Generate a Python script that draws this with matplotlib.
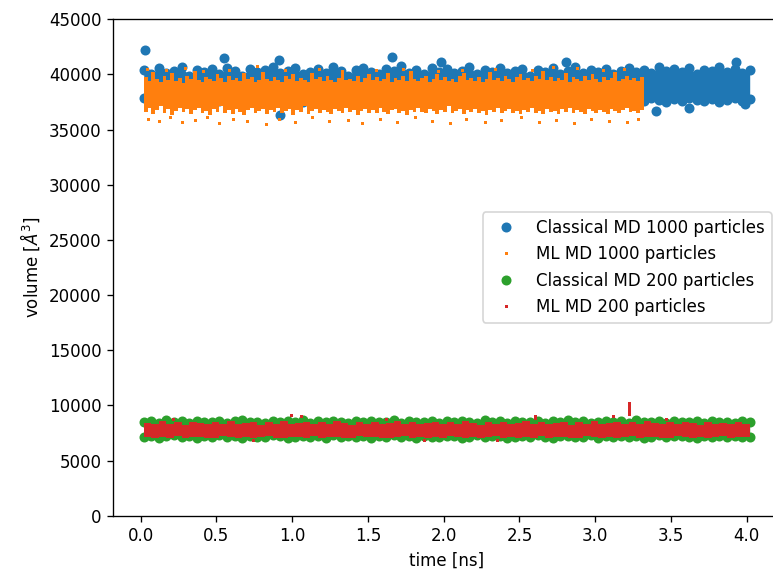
import numpy as np
import matplotlib
matplotlib.use('Agg')
import matplotlib.pyplot as plt

# sample times (ns): classical runs read every 0.05 ns, ML runs in 0.025 / 0.05 ns bins
t_cl = np.round(0.02 + 0.05 * np.arange(81), 3)
edges_ml1000 = np.round(0.02 + 0.025 * np.arange(133), 3)
edges_ml200 = np.round(0.02 + 0.05 * np.arange(81), 3)

# Classical MD 1000 particles: upper / lower edge of the cloud (A^3)
blue_hi = [40400, 40000, 40600, 40100, 40300, 40700, 39900, 40400, 40200, 40500,
           40000, 40600, 40300, 39900, 40500, 40200, 40400, 40700, 40100, 40300,
           40600, 40000, 40200, 40500, 40100, 40700, 40300, 39900, 40400, 40600,
           40200, 40000, 40500, 40300, 40800, 40100, 40400, 40000, 40600, 40200,
           40500, 40100, 40300, 40700, 40000, 40400, 40200, 40600, 40100, 40300,
           40500, 39900, 40400, 40200, 40600, 40000, 40300, 40700, 40100, 40400,
           40200, 40500, 40000, 40300, 40600, 40200, 40400, 40100, 40700, 40300,
           40500, 40200, 40600, 40000, 40400, 40300, 40700, 40200, 40500, 40100,
           40400]
blue_lo = [37900, 37600, 37800, 37500, 37700, 37600, 37900, 37500, 37700, 37800,
           37600, 37500, 37800, 37700, 37600, 37900, 37400, 37700, 37600, 37800,
           37700, 37500, 37800, 37600, 37700, 37500, 37900, 37600, 37700, 37800,
           37600, 37700, 37500, 37800, 37600, 37700, 37900, 37500, 37600, 37800,
           37700, 37600, 37800, 37500, 37700, 37600, 37800, 37700, 37500, 37600,
           37800, 37600, 37700, 37500, 37800, 37600, 37700, 37900, 37600, 37700,
           37500, 37800, 37600, 37700, 37500, 37800, 37600, 37900, 37700, 37500,
           37800, 37600, 37900, 37700, 37600, 37800, 37500, 37700, 37900, 37600,
           37800]
blue_out_t = [0.03, 0.55, 0.91, 1.66, 1.98, 2.81, 3.93, 3.40, 3.62, 3.99, 0.92]
blue_out_v = [42200, 41500, 41300, 41600, 41100, 41100, 41100, 36700, 37000, 37300, 36300]

# ML MD 1000 particles: dense band per 0.025 ns bin + loose points
orange_hi = [39800, 39400, 40200, 39600, 39300, 39900, 39500, 40100, 39400, 39700, 39200, 39900,
             39600, 40300, 39500, 39300, 39800, 39600, 39400, 40000, 39700, 39300, 39900, 39500,
             39700, 39400, 40100, 39600, 39800, 39300, 39500, 40200, 39600, 39400, 39800, 39500,
             39300, 39900, 39600, 40000, 39400, 39700, 39500, 39300, 40100, 39600, 39800, 39400,
             39900, 39500, 39300, 39700, 40200, 39500, 39600, 39400, 39900, 39300, 39700, 40000,
             39500, 39800, 39400, 39600, 40100, 39300, 39700, 39500, 39900, 39400, 40300, 39600,
             39400, 39700, 39900, 39300, 39600, 40000, 39500, 39800, 39400, 39600, 39300, 39900,
             40100, 39500, 39700, 39400, 39800, 39300, 39600, 40200, 39500, 39700, 39400, 39900,
             39600, 39300, 39800, 40000, 39500, 39700, 39400, 39900, 39600, 40300, 39500, 39800,
             39400, 39700, 39500, 40100, 39300, 39800, 39600, 39400, 39900, 39500, 40000, 39600,
             39300, 39800, 39500, 39700, 40200, 39400, 39600, 39900, 39500, 39700, 39400, 39800]
orange_lo = [36600, 37000, 36400, 36800, 37100, 36500, 36900, 36300, 36700, 37000, 36600, 36900,
             36400, 36800, 37000, 36500, 36700, 36300, 36900, 36600, 37100, 36500, 36800, 36400,
             36900, 36600, 36300, 36800, 37000, 36500, 36700, 36900, 36400, 36800, 36600, 37000,
             36500, 36700, 36900, 36300, 36800, 36600, 37100, 36400, 36700, 36900, 36500, 36800,
             36600, 36400, 36900, 36700, 36500, 37000, 36600, 36800, 36300, 36700, 36900, 36500,
             36800, 36500, 37000, 36600, 36400, 36800, 36900, 36500, 36700, 36300, 36800, 36600,
             37000, 36600, 36500, 36900, 36700, 36400, 36800, 36600, 37100, 36500, 36700, 36900,
             36400, 36800, 36600, 36900, 36500, 36700, 36300, 36800, 36600, 37000, 36500, 36700,
             36900, 36500, 36700, 36400, 36800, 36600, 37000, 36500, 36700, 36400, 36900, 36600,
             36700, 36400, 36900, 36600, 37000, 36500, 36800, 36600, 36400, 36900, 36700, 36500,
             36800, 36600, 36400, 36900, 36700, 36500, 36800, 37000, 36600, 36700, 36500, 36800]
orange_out_t = [0.05, 0.12, 0.19, 0.27, 0.36, 0.44, 0.52, 0.61, 0.70, 0.83, 0.91,
                1.02, 1.13, 1.24, 1.37, 1.46, 1.58, 1.69, 1.81, 1.92, 2.04, 2.15,
                2.27, 2.38, 2.51, 2.63, 2.74, 2.86, 2.97, 3.09, 3.21, 3.28,
                0.04, 0.17, 0.29, 0.41, 0.58, 0.77, 0.95, 1.18, 1.33, 1.55, 1.73,
                1.96, 2.12, 2.34, 2.58, 2.72, 2.88, 3.05, 3.19]
orange_out_v = [36000, 35800, 36100, 35700, 35900, 36100, 35600, 36000, 35800, 35500, 36000,
                35700, 36100, 35800, 35900, 35600, 36000, 35700, 36100, 35800, 35600, 36000,
                35700, 35900, 36100, 35700, 35900, 35600, 36000, 35800, 35700, 36000,
                40500, 40400, 40600, 40300, 40400, 40800, 40400, 40500, 40300, 40400, 40500,
                40300, 40400, 40500, 40400, 40700, 40600, 40400, 40500]

# Classical MD 200 particles
green_hi = [8500, 8600, 8400, 8650, 8450, 8550, 8400, 8600, 8500, 8450,
            8600, 8400, 8550, 8650, 8450, 8500, 8400, 8600, 8450, 8550,
            8500, 8650, 8400, 8550, 8450, 8600, 8500, 8400, 8550, 8450,
            8600, 8500, 8450, 8650, 8400, 8550, 8500, 8450, 8600, 8400,
            8550, 8450, 8600, 8500, 8400, 8650, 8450, 8550, 8400, 8600,
            8500, 8450, 8550, 8400, 8600, 8500, 8650, 8450, 8550, 8400,
            8500, 8600, 8450, 8550, 8400, 8650, 8500, 8450, 8600, 8400,
            8550, 8500, 8450, 8600, 8400, 8550, 8450, 8500, 8400, 8550,
            8450]
green_lo = [7150, 7250, 7050, 7200, 7300, 7100, 7200, 7050, 7250, 7150,
            7300, 7100, 7200, 7050, 7250, 7150, 7100, 7300, 7200, 7050,
            7150, 7250, 7100, 7200, 7050, 7300, 7150, 7200, 7100, 7250,
            7050, 7200, 7150, 7300, 7100, 7250, 7050, 7200, 7150, 7100,
            7250, 7200, 7050, 7150, 7300, 7100, 7200, 7250, 7050, 7150,
            7200, 7100, 7300, 7150, 7050, 7250, 7200, 7100, 7150, 7300,
            7050, 7200, 7150, 7250, 7100, 7200, 7050, 7150, 7300, 7100,
            7200, 7250, 7150, 7050, 7200, 7100, 7250, 7150, 7200, 7100,
            7150]

# ML MD 200 particles
red_hi = [8400, 8300, 8550, 8350, 8450, 8250, 8500, 8400, 8300, 8450,
          8350, 8550, 8300, 8400, 8500, 8250, 8450, 8350, 8600, 8300,
          8400, 8500, 8350, 8450, 8300, 8550, 8400, 8250, 8450, 8350,
          8500, 8300, 8400, 8550, 8350, 8450, 8300, 8400, 8500, 8350,
          8450, 8300, 8550, 8400, 8250, 8450, 8350, 8500, 8300, 8400,
          8550, 8350, 8450, 8300, 8400, 8500, 8250, 8450, 8350, 8550,
          8300, 8400, 8500, 8350, 8450, 8300, 8550, 8400, 8350, 8450,
          8300, 8500, 8400, 8250, 8450, 8350, 8400, 8300, 8450, 8350]
red_lo = [7100, 7000, 7150, 7050, 7200, 7000, 7100, 7150, 7050, 7000,
          7200, 7100, 7050, 7150, 7000, 7100, 7200, 7050, 7000, 7150,
          7100, 7050, 7200, 7000, 7150, 7100, 7050, 7000, 7200, 7100,
          7150, 7000, 7050, 7100, 7200, 7050, 7150, 7000, 7100, 7050,
          7200, 7100, 7000, 7150, 7050, 7100, 7200, 7000, 7150, 7050,
          7100, 7000, 7200, 7050, 7150, 7100, 7000, 7050, 7200, 7100,
          7050, 7150, 7000, 7100, 7200, 7050, 7100, 7150, 7000, 7050,
          7200, 7100, 7050, 7150, 7000, 7100, 7200, 7050, 7150, 7100]
red_out_t = [0.21, 0.99, 1.06, 1.62, 2.60, 2.60, 3.12, 3.22, 3.22, 3.22, 3.22, 3.22,
             3.47, 0.74, 1.87, 2.35]
red_out_v = [8750, 9100, 9050, 8800, 8850, 9000, 9050, 9200, 9450, 9700, 9950, 10200,
             8800, 6850, 6900, 6850]

fig = plt.figure(figsize=(773 / 120, 576 / 120), dpi=120)
ax = fig.add_axes([113 / 773, 60.3 / 576, 667 / 773, 496.4 / 576])

ax.fill_between(t_cl, blue_lo, blue_hi, color='C0', lw=0, zorder=2.0)
ax.plot(np.r_[t_cl, t_cl, blue_out_t], np.r_[blue_hi, blue_lo, blue_out_v], 'o',
        ms=5, color='C0', label='Classical MD 1000 particles', zorder=2.0)

ax.stairs(orange_hi, edges_ml1000, baseline=orange_lo, fill=True, color='C1',
          lw=0, zorder=2.1)
ax.plot(orange_out_t, orange_out_v, 's', ms=1.8, mew=0, color='C1',
        label='ML MD 1000 particles', zorder=2.1)

ax.fill_between(t_cl, green_lo, green_hi, color='C2', lw=0, zorder=2.2)
ax.plot(np.r_[t_cl, t_cl], np.r_[green_hi, green_lo], 'o', ms=5, color='C2',
        label='Classical MD 200 particles', zorder=2.2)

ax.stairs(red_hi, edges_ml200, baseline=red_lo, fill=True, color='C3', lw=0,
          zorder=2.3)
ax.plot(red_out_t, red_out_v, 's', ms=1.8, mew=0, color='C3',
        label='ML MD 200 particles', zorder=2.3)

ax.set_xlim(-0.183, 4.22)
ax.set_ylim(0, 45000)
ax.set_xlabel('time [ns]')
ax.set_ylabel('volume [$Å^3$]')
ax.legend(loc='center right')

fig.savefig('out.png', dpi=120)
